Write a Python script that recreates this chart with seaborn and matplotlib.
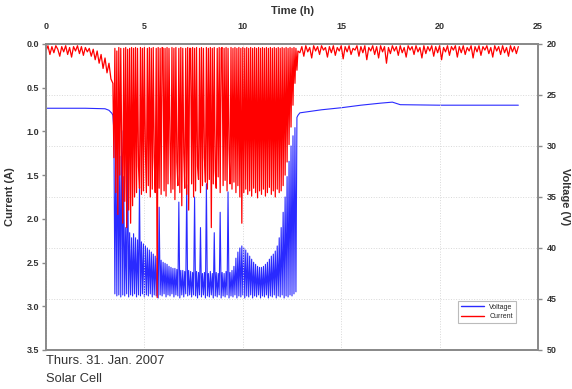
import numpy as np
import pandas as pd
import matplotlib
matplotlib.use("Agg")
import matplotlib.pyplot as plt
import seaborn as sns
from matplotlib.lines import Line2D

# ---------------- data ----------------
# quiet part before the event, step 0.1 h
t_pre = np.round(np.arange(0.0, 3.35, 0.1), 2)
current_pre = [0.08, 0.02, 0.12, 0.03, 0.10, 0.02, 0.06, 0.14, 0.03, 0.09,
               0.02, 0.12, 0.04, 0.15, 0.03, 0.08, 0.02, 0.11, 0.03, 0.13,
               0.04, 0.09, 0.05, 0.14, 0.06, 0.18, 0.08, 0.22, 0.12, 0.28,
               0.16, 0.33, 0.22, 0.40]

# active part, step 0.05 h
t_act = np.round(np.arange(3.40, 12.825, 0.05), 2)
current_act = [
    0.45, 1.30, 0.05, 1.70, 0.08, 1.95, 0.04, 1.50, 0.05, 1.20,
    2.05, 0.05, 1.80, 0.04, 2.10, 0.06, 1.90, 0.05, 2.05, 0.04,
    1.85, 0.05, 1.75, 0.04, 1.70, 0.05, 1.40, 1.65, 0.04, 1.72,
    0.05, 1.68, 0.04, 1.20, 1.70, 0.05, 1.62, 0.04, 1.75, 0.05,
    1.66, 0.04, 1.30, 1.70, 0.05, 2.90, 0.04, 1.65, 0.05, 1.72,
    0.04, 0.05, 1.68, 0.05, 1.74, 0.04, 1.60, 0.05, 1.10, 1.70,
    0.04, 1.66, 0.05, 1.78, 0.04, 1.35, 1.62, 0.05, 1.70, 0.04,
    1.85, 0.05, 1.25, 1.65, 0.05, 1.72, 0.04, 1.90, 0.05, 0.05,
    1.60, 0.04, 1.75, 0.05, 1.68, 0.04, 1.40, 1.55, 0.05, 1.70,
    0.04, 1.62, 0.05, 1.30, 1.58, 0.04, 1.66, 0.05, 1.55, 0.04,
    2.10, 0.05, 1.60, 0.04, 1.45, 1.65, 0.05, 1.52, 0.04, 1.70,
    0.05, 0.04, 1.62, 0.05, 1.56, 0.04, 1.68, 0.05, 1.20, 1.60,
    0.04, 1.66, 0.05, 1.58, 0.04, 1.70, 0.05, 1.62, 0.04, 1.75,
    0.05, 2.05, 0.04, 1.70, 0.05, 1.66, 0.04, 1.72, 0.05, 1.68,
    0.04, 1.74, 0.05, 1.65, 0.04, 1.70, 0.05, 1.76, 0.04, 1.68,
    0.05, 1.72, 0.04, 1.66, 0.05, 1.74, 0.04, 1.70, 0.05, 1.64,
    0.04, 1.72, 0.05, 1.68, 0.04, 1.75, 0.05, 1.66, 0.04, 1.70,
    0.05, 1.68, 0.04, 1.62, 0.05, 1.50, 0.04, 1.35, 0.05, 1.15,
    0.04, 0.95, 0.05, 0.70, 0.04, 0.45, 0.05, 0.30, 0.08]
voltage_act = [
    27.0, 28.5, 44.5, 30.0, 44.7, 29.0, 44.6, 31.0, 44.8, 28.5,
    44.6, 33.0, 44.7, 38.0, 44.5, 30.5, 44.8, 38.5, 44.6, 39.0,
    44.7, 38.6, 44.5, 39.0, 44.8, 39.2, 44.6, 34.0, 44.7, 39.4,
    44.5, 39.6, 44.8, 39.8, 44.6, 40.0, 44.7, 40.2, 44.5, 40.4,
    44.8, 40.6, 44.6, 40.8, 44.7, 41.0, 44.9, 36.0, 44.6, 41.2,
    44.7, 41.4, 44.5, 41.5, 44.8, 41.6, 44.6, 41.8, 44.7, 41.9,
    44.5, 42.0, 44.8, 42.0, 44.6, 42.1, 44.7, 35.5, 44.9, 42.2,
    44.6, 42.2, 44.8, 42.3, 44.5, 33.8, 44.7, 42.2, 44.6, 42.3,
    44.8, 42.4, 44.6, 35.0, 44.7, 42.3, 44.9, 42.4, 44.6, 38.0,
    44.8, 42.5, 44.6, 42.4, 44.9, 33.7, 44.7, 42.5, 44.8, 42.3,
    44.6, 42.5, 44.9, 38.5, 44.7, 42.4, 44.8, 42.5, 44.6, 36.5,
    44.9, 42.4, 44.7, 42.5, 44.8, 42.3, 44.6, 34.5, 44.9, 42.4,
    44.7, 42.2, 44.8, 41.8, 44.6, 41.0, 44.9, 40.4, 44.7, 40.0,
    44.8, 39.8, 44.6, 40.0, 44.9, 40.2, 44.7, 40.5, 44.8, 40.8,
    44.6, 41.1, 44.9, 41.4, 44.7, 41.6, 44.8, 41.8, 44.6, 41.9,
    44.9, 41.9, 44.7, 41.8, 44.8, 41.6, 44.6, 41.4, 44.9, 41.1,
    44.7, 40.8, 44.8, 40.6, 44.6, 40.3, 44.9, 39.8, 44.7, 39.0,
    44.8, 38.0, 44.6, 36.5, 44.9, 35.0, 44.7, 33.0, 44.8, 31.5,
    44.6, 30.0, 44.7, 29.0, 44.5, 28.2, 44.3, 27.2, 27.0]

# quiet part after the event, step 0.1 h
t_post = np.round(np.arange(12.9, 24.05, 0.1), 2)
current_post = [
    0.10, 0.03, 0.14, 0.02, 0.09, 0.04, 0.16, 0.02, 0.08, 0.03,
    0.12, 0.02, 0.07, 0.04, 0.15, 0.03, 0.10, 0.02, 0.13, 0.04,
    0.08, 0.02, 0.17, 0.03, 0.09, 0.02, 0.12, 0.05, 0.07, 0.02,
    0.14, 0.03, 0.10, 0.02, 0.18, 0.04, 0.08, 0.02, 0.12, 0.03,
    0.16, 0.02, 0.09, 0.03, 0.22, 0.04, 0.11, 0.02, 0.08, 0.03,
    0.13, 0.02, 0.10, 0.04, 0.15, 0.02, 0.07, 0.03, 0.12, 0.02,
    0.09, 0.04, 0.16, 0.02, 0.11, 0.03, 0.08, 0.02, 0.14, 0.03,
    0.10, 0.02, 0.18, 0.04, 0.09, 0.02, 0.13, 0.03, 0.07, 0.02,
    0.15, 0.03, 0.10, 0.02, 0.12, 0.04, 0.08, 0.02, 0.16, 0.03,
    0.09, 0.02, 0.13, 0.03, 0.07, 0.02, 0.11, 0.04, 0.15, 0.02,
    0.08, 0.03, 0.12, 0.02, 0.10, 0.04, 0.14, 0.02, 0.09, 0.03,
    0.11, 0.03]

# smooth voltage outside the event
t_volt_pre = [0.0, 1.0, 2.0, 3.0, 3.2, 3.35]
voltage_pre = [26.3, 26.3, 26.3, 26.35, 26.5, 26.8]
t_volt_post = [12.9, 14.0, 15.0, 16.0, 17.0, 17.6, 18.0, 20.0, 22.0, 24.0]
voltage_post = [26.75, 26.45, 26.25, 26.0, 25.8, 25.7, 25.95, 26.0, 26.0, 26.0]

x_ticks = [0, 5, 10, 15, 20, 25]
current_ticks = [0.0, 0.5, 1.0, 1.5, 2.0, 2.5, 3.0, 3.5]
voltage_ticks = [20, 25, 30, 35, 40, 45, 50]

curr_df = pd.DataFrame({"t": np.concatenate([t_pre, t_act, t_post]),
                        "A": current_pre + current_act + current_post})
volt_df = pd.DataFrame({"t": np.concatenate([t_volt_pre, t_act, t_volt_post]),
                        "V": voltage_pre + voltage_act + voltage_post})

# ---------------- plot ----------------
sns.set_style("white")
plt.rcParams['font.family'] = ['Liberation Sans', 'DejaVu Sans']

BLUE = "#2a2aff"
RED = "#ff0000"
GREY = "#8a8a8a"
TXT = "#333333"

fig = plt.figure(figsize=(5.72, 3.89), dpi=100)
ax = fig.add_axes([0.0804, 0.1003, 0.8602, 0.7866])
ax2 = ax.twinx()

sns.lineplot(data=volt_df, x="t", y="V", ax=ax2, color=BLUE, lw=0.8,
             estimator=None, sort=False, legend=False)
sns.lineplot(data=curr_df, x="t", y="A", ax=ax, color=RED, lw=0.9,
             estimator=None, sort=False, legend=False)

ax.set_zorder(ax2.get_zorder() + 1)
ax.patch.set_visible(False)

ax.set_xlim(0, 25)
ax.set_ylim(3.5, 0)
ax2.set_ylim(50, 20)
ax.set_xticks(x_ticks)
ax.set_yticks(current_ticks)
ax.set_yticklabels([f"{v:.1f}" for v in current_ticks])
ax2.set_yticks(voltage_ticks)

ax.xaxis.tick_top()
ax.xaxis.set_label_position('top')

ax.grid(axis='x', color="#d8d8d8", ls=":", lw=0.7)
ax2.grid(axis='y', color="#d8d8d8", ls=":", lw=0.7)

for a in (ax, ax2):
    for s in a.spines.values():
        s.set_color(GREY)
        s.set_linewidth(1.3)

ax.tick_params(axis='x', length=0, pad=9, labelsize=6.5, colors=TXT)
ax.tick_params(axis='y', length=3, width=1, color=GREY, pad=2,
               labelsize=6.5, labelcolor=TXT)
ax2.tick_params(axis='y', length=3, width=1, color=GREY, pad=3,
                labelsize=6.5, labelcolor=TXT)
for lab in ax.get_xticklabels() + ax.get_yticklabels() + ax2.get_yticklabels():
    lab.set_fontweight('bold')

ax.set_xlabel("Time (h)", fontsize=8, fontweight='bold', color=TXT, labelpad=6)
ax.set_ylabel("Current (A)", fontsize=8, fontweight='bold', color=TXT)
ax.yaxis.set_label_coords(-0.063, 0.5)
ax2.set_ylabel("Voltage (V)", fontsize=8, fontweight='bold', color=TXT,
               rotation=270, va='center')
ax2.yaxis.set_label_coords(1.055, 0.5)

handles = [Line2D([], [], color=BLUE, lw=1), Line2D([], [], color=RED, lw=1)]
leg = ax.legend(handles, ["Voltage", "Current"], loc='upper left',
                bbox_to_anchor=(0.831, 0.173), fontsize=5, frameon=True,
                fancybox=False, shadow=False, handlelength=3.2,
                borderpad=0.45, labelspacing=0.35, handletextpad=0.8)
leg.get_frame().set_edgecolor("#aaaaaa")
leg.get_frame().set_linewidth(0.8)

fig.text(46 / 572, 1 - 361 / 389, "Thurs. 31. Jan. 2007", fontsize=9.3,
         color=TXT, ha='left', va='center')
fig.text(46 / 572, 1 - 379 / 389, "Solar Cell", fontsize=9.3,
         color=TXT, ha='left', va='center')

fig.savefig("out.png", dpi=100)
